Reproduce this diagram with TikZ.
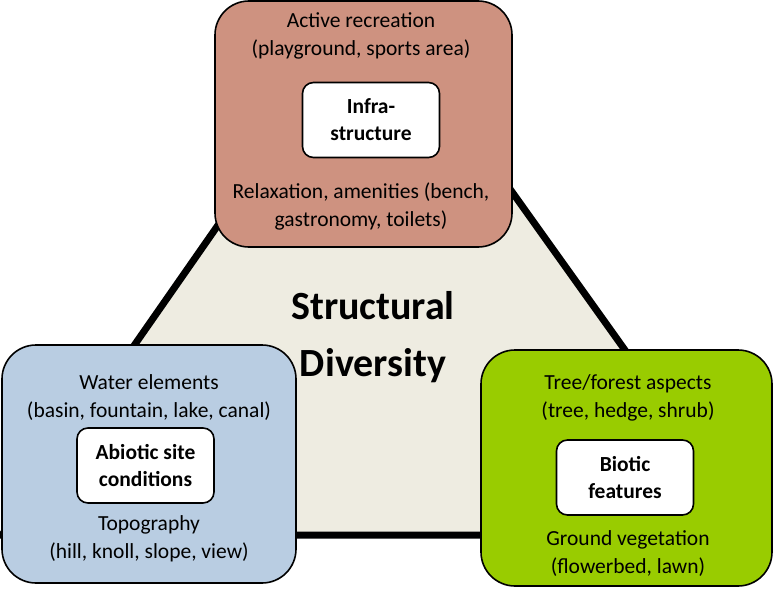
\documentclass[tikz,border=0pt]{standalone}
\usepackage{fontspec}
\setmainfont{Carlito}
\definecolor{infracol}{RGB}{206,146,128}
\definecolor{abioticcol}{RGB}{185,205,226}
\definecolor{bioticcol}{RGB}{153,204,0}
\definecolor{basecol}{RGB}{238,236,225}

\begin{document}
\begin{tikzpicture}[x=1pt, y=-1pt,
    outerbox/.style={draw, line width=1.6pt, rounded corners=34pt, inner sep=0pt},
    innerbox/.style={draw, fill=white, line width=1.6pt, rounded corners=11pt,
        minimum width=137pt, minimum height=75pt, align=center,
        font=\fontsize{21.5}{27}\selectfont\bfseries},
    itemtext/.style={align=center, font=\fontsize{21.5}{28}\selectfont}]

    \useasboundingbox (0,0) rectangle (774,589);

    % the triangle behind
    \coordinate (apex) at (375,0);
    \coordinate (left) at (2,535);
    \coordinate (right) at (757,535);
    \draw[line width=7pt, fill=basecol] (apex) -- (left) -- (right) -- cycle;

    \node[font=\fontsize{40}{57}\selectfont\bfseries, align=center] (title) at (373,337) {Structural\\Diversity};

    % infrastructure
    \node[outerbox, fill=infracol, minimum width=297pt, minimum height=246pt] (infra) at (363.5,124) {};
    \node[innerbox] (infrain) at (371,120) {Infra-\\structure};
    \node[itemtext] (active) at (361,36) {Active recreation\\(playground, sports area)};
    \node[itemtext] (relax) at (361,206) {Relaxation, amenities (bench,\\gastronomy, toilets)};

    % abiotic
    \node[outerbox, fill=abioticcol, minimum width=294pt, minimum height=238pt] (abiotic) at (149,464) {};
    \node[innerbox] (abioticin) at (145.5,465.5) {Abiotic site\\conditions};
    \node[itemtext] (water) at (149,397.5) {Water elements\\(basin, fountain, lake, canal)};
    \node[itemtext] (topo) at (149,539) {Topography\\(hill, knoll, slope, view)};

    % biotic
    \node[outerbox, fill=bioticcol, minimum width=291pt, minimum height=236pt] (biotic) at (626.5,468) {};
    \node[innerbox] (bioticin) at (625,477.5) {Biotic\\features};
    \node[itemtext] (tree) at (628,397.5) {Tree/forest aspects\\(tree, hedge, shrub)};
    \node[itemtext] (ground) at (628,554) {Ground vegetation\\(flowerbed, lawn)};
\end{tikzpicture}
\end{document}
